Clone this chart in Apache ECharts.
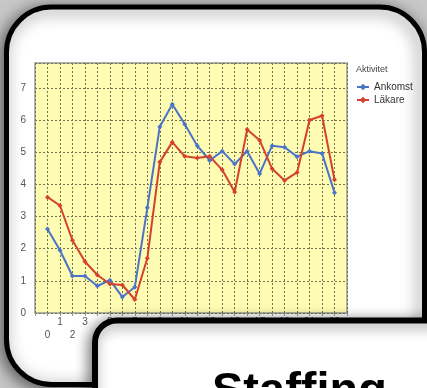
<!DOCTYPE html>
<html>
<head>
<meta charset="utf-8">
<script src="https://cdn.jsdelivr.net/npm/echarts@6/dist/echarts.min.js"></script>
<style>
  html, body { margin: 0; padding: 0; background: #c8c8c8; }
  #chart { width: 427px; height: 388px; }
</style>
</head>
<body>
<div id="chart"></div>
<script>
// Hour of day (0-23)
const hours = [0,1,2,3,4,5,6,7,8,9,10,11,12,13,14,15,16,17,18,19,20,21,22,23];
// Ankomst (arrivals) per hour
const ankomst = [2.61,1.95,1.15,1.15,0.84,1.02,0.50,0.81,3.27,5.79,6.49,5.87,5.20,4.74,5.03,4.63,5.03,4.33,5.20,5.15,4.86,5.03,4.96,3.74];
// Läkare (doctors) per hour
const lakare = [3.60,3.34,2.26,1.60,1.18,0.90,0.87,0.42,1.70,4.69,5.31,4.87,4.82,4.87,4.45,3.76,5.70,5.37,4.48,4.12,4.37,6.00,6.13,4.14];
const yTicks = [0,1,2,3,4,5,6,7];

const chart = echarts.init(document.getElementById('chart'), null, { renderer: 'canvas' });

const font = '"Liberation Sans", Arial, sans-serif';
const gridColor = '#74734f';

const option = {
  backgroundColor: '#c8c8c8',
  animation: false,
  grid: {
    left: 35, top: 63, width: 312, height: 250,
    show: true, backgroundColor: '#fefbb2', borderColor: '#9a9a92', borderWidth: 1.5
  },
  legend: {
    orient: 'vertical', left: 356, top: 82, itemGap: 3, padding: 0,
    itemWidth: 12, itemHeight: 8,
    textStyle: { fontFamily: font, fontSize: 10, color: '#333' },
    data: ['Ankomst', 'Läkare']
  },
  xAxis: {
    type: 'value', min: -1, max: 24, interval: 1,
    axisLine: { show: false },
    axisTick: { show: true, length: 3, lineStyle: { color: '#999' } },
    splitLine: { show: true, lineStyle: { color: gridColor, type: [2, 2], width: 1 } },
    axisLabel: {
      margin: 3, fontFamily: font, fontSize: 10, color: '#555', lineHeight: 13,
      formatter: v => (hours.indexOf(v) < 0 ? '' : (v % 2 === 0 ? '\n' + v : String(v)))
    }
  },
  yAxis: {
    type: 'value', min: 0, max: 7.77, interval: 1,
    axisLine: { show: false }, axisTick: { show: false },
    splitLine: { show: true, lineStyle: { color: gridColor, type: [2, 2], width: 1 } },
    axisLabel: {
      margin: 9, fontFamily: font, fontSize: 10, color: '#555',
      formatter: v => (yTicks.indexOf(v) < 0 ? '' : String(v))
    }
  },
  series: [
    {
      name: 'Ankomst', type: 'line', symbol: 'diamond', symbolSize: 5,
      color: '#4b74c8', lineStyle: { width: 2 },
      data: hours.map((h, i) => [h, ankomst[i]])
    },
    {
      name: 'Läkare', type: 'line', symbol: 'diamond', symbolSize: 5,
      color: '#d4412c', lineStyle: { width: 2 },
      data: hours.map((h, i) => [h, lakare[i]])
    }
  ],
  graphic: [
    // main slide panel
    {
      type: 'rect', z: -10, silent: true,
      shape: { x: 6.5, y: 7, width: 418, height: 377.5, r: 45 },
      style: {
        fill: '#ffffff', stroke: '#000', lineWidth: 5,
        shadowBlur: 16, shadowColor: 'rgba(0,0,0,0.55)', shadowOffsetX: -3, shadowOffsetY: 3
      }
    },
    // legend title
    {
      type: 'text', z: 10, left: 356, top: 65,
      style: { text: 'Aktivitet', fontFamily: font, fontSize: 9, fill: '#444' }
    },
    // overlapping title box
    {
      type: 'rect', z: 100, silent: true,
      shape: { x: 95, y: 320.5, width: 420, height: 200, r: 22 },
      style: {
        fill: '#ffffff', stroke: '#000', lineWidth: 6,
        shadowBlur: 14, shadowColor: 'rgba(0,0,0,0.5)', shadowOffsetX: -3, shadowOffsetY: 3
      }
    },
    {
      type: 'text', z: 101, x: 212, y: 369,
      style: { text: 'Staffing', fontFamily: font, fontSize: 47, fontWeight: 'bold', fill: '#000', textVerticalAlign: 'top' }
    }
  ]
};
chart.setOption(option);
</script>
</body>
</html>
